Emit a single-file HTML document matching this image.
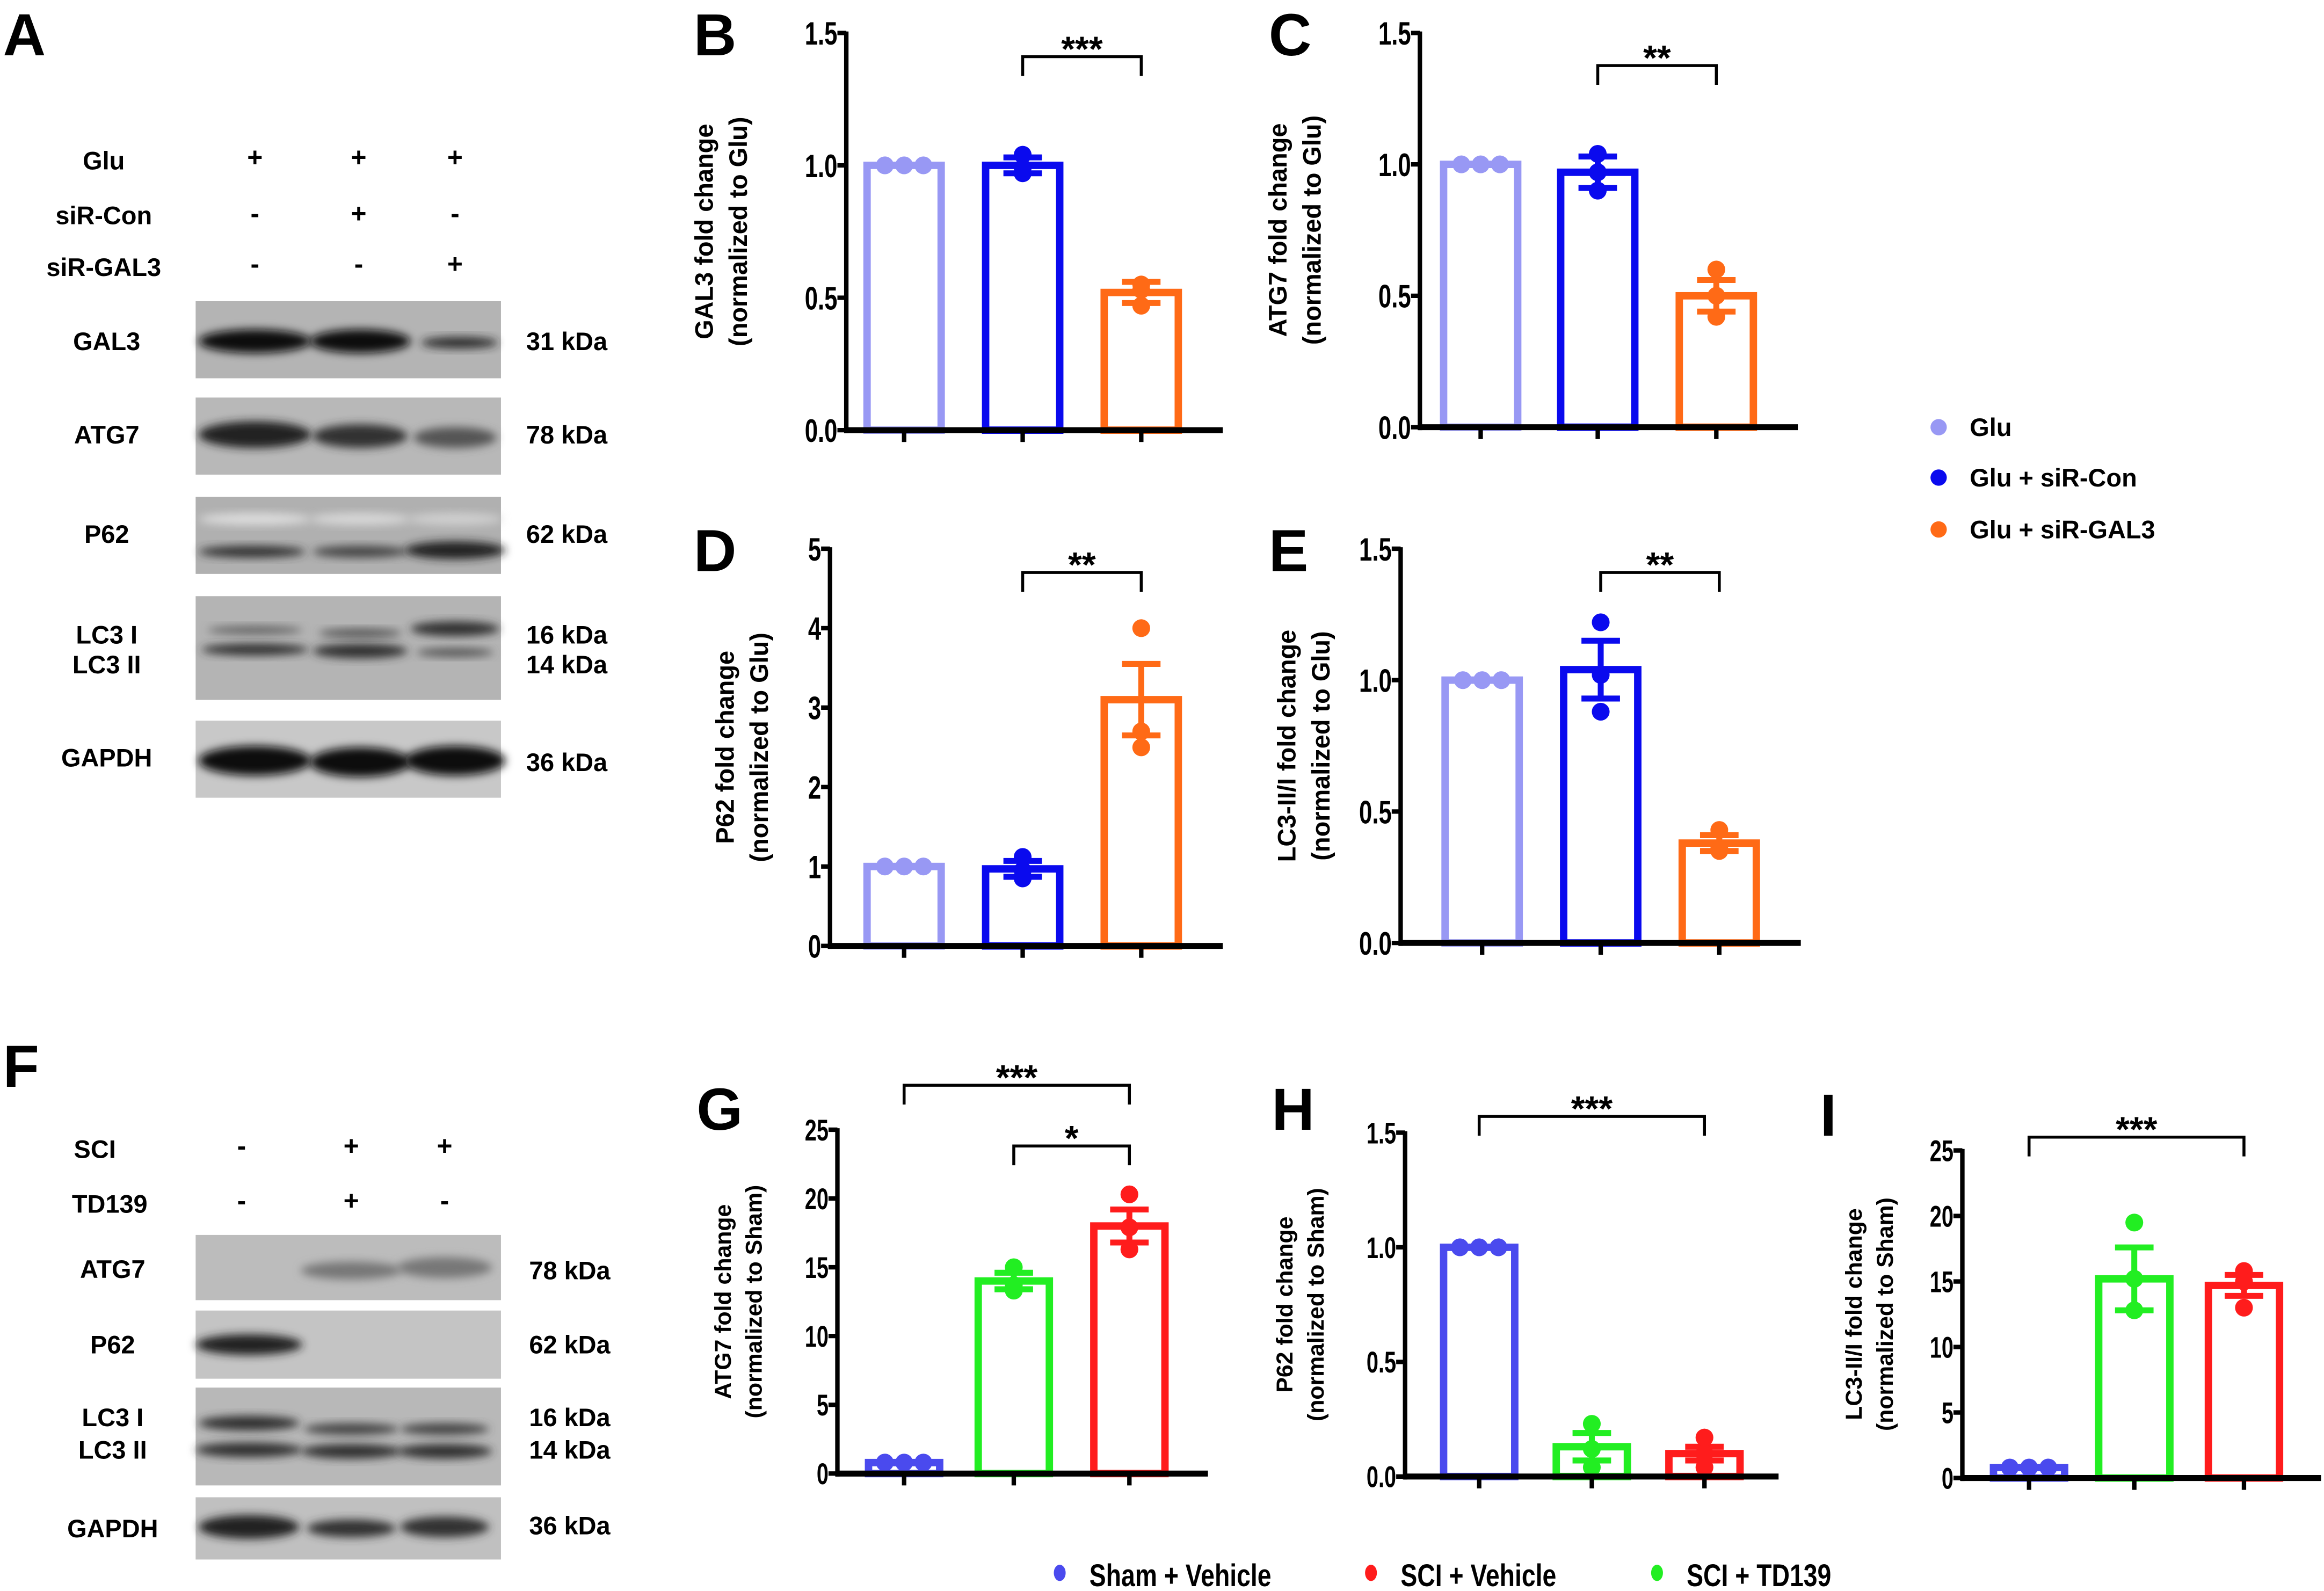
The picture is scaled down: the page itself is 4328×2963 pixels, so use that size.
<!DOCTYPE html>
<html><head><meta charset="utf-8"><style>
html,body{margin:0;padding:0;background:#fff;}
svg{display:block;}
text{font-family:"Liberation Sans",Arial,sans-serif;font-weight:bold;}
</style></head><body>
<svg id="fig" width="4328" height="2963" viewBox="0 0 1568 1073" xmlns="http://www.w3.org/2000/svg">
<defs>
<filter id="blur" x="-20%" y="-50%" width="140%" height="200%"><feGaussianBlur stdDeviation="3"/></filter>
</defs>
<rect width="1568" height="1073" fill="#fff"/>
<g id="blots"></g>
<g id="charts"></g>
<g id="legends"></g>
</svg>
<script>
// ---- chart data ----
const groupsTop = ["Glu", "Glu + siR-Con", "Glu + siR-GAL3"];
const groupsBot = ["Sham + Vehicle", "SCI + TD139", "SCI + Vehicle"];
const colorsTop = ["#9898f4", "#0a0aee", "#ff6a16"];
const colorsBot = ["#4a4aee", "#22ee22", "#ff1c1c"];

const meansB = [1.0, 1.0, 0.52];
const errsB = [0.0, 0.03, 0.04];
const ptsB = [[1,1,1],[1.04,0.97,0.99],[0.55,0.47,0.53]];

const meansC = [1.0, 0.97, 0.5];
const errsC = [0.0, 0.06, 0.06];
const ptsC = [[1,1,1],[1.04,0.97,0.9],[0.6,0.5,0.42]];

const meansD = [1.0, 0.97, 3.1];
const errsD = [0.0, 0.1, 0.45];
const ptsD = [[1,1,1],[1.12,0.85,0.95],[4.0,2.7,2.5]];

const meansE = [1.0, 1.04, 0.38];
const errsE = [0.0, 0.11, 0.03];
const ptsE = [[1,1,1],[1.22,1.02,0.88],[0.43,0.36,0.35]];

const meansG = [0.8, 14.0, 18.0];
const errsG = [0.0, 0.6, 1.2];
const ptsG = [[0.8,0.8,0.8],[15.0,13.3,13.7],[20.3,17.9,16.3]];

const meansH = [1.0, 0.13, 0.10];
const errsH = [0.0, 0.06, 0.03];
const ptsH = [[1,1,1],[0.23,0.12,0.04],[0.17,0.1,0.04]];

const meansI = [0.8, 15.2, 14.7];
const errsI = [0.0, 2.4, 0.8];
const ptsI = [[0.8,0.8,0.8],[19.5,15.2,12.8],[15.8,15.0,13.0]];

const ticks15 = [0, 0.5, 1.0, 1.5];
const tickLabels15 = ["0.0","0.5","1.0","1.5"];
const ticks5 = [0,1,2,3,4,5];
const tickLabels5 = ["0","1","2","3","4","5"];
const ticks25 = [0,5,10,15,20,25];
const tickLabels25 = ["0","5","10","15","20","25"];

const NS = "http://www.w3.org/2000/svg";
function el(tag, attrs, parent, txt){
  const e = document.createElementNS(NS, tag);
  for (const k in attrs) e.setAttribute(k, attrs[k]);
  if (txt !== undefined) e.textContent = txt;
  parent.appendChild(e);
  return e;
}

const chartsG = document.getElementById('charts');

function drawChart(c){
  const g = el('g', {}, chartsG);
  
  
  const yScale = v => c.yBot - (v / c.max) * (c.yBot - c.yTop);
  const fs = c.fs || 22;
  c.means.forEach((m, i) => {
    const x = c.xs[i], col = c.colors[i];
    const top = yScale(m);
    const bar = el('rect', {x: x - c.bw/2, y: top, width: c.bw, height: c.yBot - top, fill: '#fff', stroke: col, 'stroke-width': 5}, g);
    
    
    const e = c.errs[i];
    if (e > 0) {
      const eb = el('g', {stroke: col, 'stroke-width': 4}, g);
      
      
      el('line', {x1: x, x2: x, y1: yScale(m - e), y2: yScale(m + e)}, eb);
      el('line', {x1: x - 13, x2: x + 13, y1: yScale(m + e), y2: yScale(m + e)}, eb);
      el('line', {x1: x - 13, x2: x + 13, y1: yScale(m - e), y2: yScale(m - e)}, eb);
    }
    const pts = c.pts[i];
    const allSame = pts.every(p => p === pts[0]);
    pts.forEach((p, j) => {
      const dx = allSame ? (j - 1) * 13 : 0;
      const pt = el('circle', {cx: x + dx, cy: yScale(p), r: 6, fill: col}, g);
      
      
    });
  });
  const ax = el('g', {stroke: '#000'}, g);
  
  
  el('line', {x1: c.x0, x2: c.x0, y1: c.yTop - 1, y2: c.yBot + 2, 'stroke-width': 3}, ax);
  el('line', {x1: c.x0 - 1, x2: c.xEnd, y1: c.yBot, y2: c.yBot, 'stroke-width': 4}, ax);
  c.ticks.forEach((t, i) => {
    const y = yScale(t);
    el('line', {x1: c.x0 - 6, x2: c.x0, y1: y, y2: y, 'stroke-width': 3}, ax);
    const ax0 = c.x0 - 6;
    const tl = el('text', {x: ax0, y: y + fs*0.36, 'font-size': fs, 'text-anchor': 'end', fill: '#000', stroke: 'none', transform: `translate(${ax0},0) scale(0.72,1) translate(${-ax0},0)`}, g, c.tickLabels[i]);
    
    
  });
  c.xs.forEach(x => el('line', {x1: x, x2: x, y1: c.yBot, y2: c.yBot + 8, 'stroke-width': 3}, ax));
  const ly = (c.yTop + c.yBot) / 2;
  c.ylab.forEach((s, i) => {
    const lx = c.labX + i * c.labGap;
    const t = el('text', {x: 0, y: 0, 'font-size': c.labFs, 'text-anchor': 'middle', fill: '#000',
      transform: `translate(${lx},${ly}) rotate(-90)`}, g, s);
    
    
  });
  c.sig.forEach(s => {
    const sg = el('g', {}, g);
    
    
    const xa = c.xs[s.a], xb = c.xs[s.b];
    el('polyline', {points: `${xa},${s.y+13} ${xa},${s.y} ${xb},${s.y} ${xb},${s.y+13}`, fill: 'none', stroke: '#000', 'stroke-width': 2}, sg);
    el('text', {x: (xa+xb)/2, y: s.y + 3, 'font-size': 24, 'text-anchor': 'middle', fill: '#000'}, sg, s.t);
  });
  const L = el('text', {x: c.letter[0], y: c.letter[1], 'font-size': 40, fill: '#000'}, g, c.id);
  
  
}

const topCommon = {bw: 50, colors: colorsTop, labFs: 17, labGap: 23};
drawChart(Object.assign({}, topCommon, {id:'B', x0:571, xEnd:825, yTop:22, yBot:290, max:1.5, ticks:ticks15, tickLabels:tickLabels15, xs:[610,690,770], means:meansB, errs:errsB, pts:ptsB, ylab:["GAL3 fold change","(normalized to Glu)"], labX:481, sig:[{a:1,b:2,y:38,t:"***"}], letter:[468,37]}));
drawChart(Object.assign({}, topCommon, {id:'C', x0:958, xEnd:1213, yTop:22, yBot:288, max:1.5, ticks:ticks15, tickLabels:tickLabels15, xs:[999,1078,1158], means:meansC, errs:errsC, pts:ptsC, ylab:["ATG7 fold change","(normalized to Glu)"], labX:868, sig:[{a:1,b:2,y:44,t:"**"}], letter:[856,37]}));
drawChart(Object.assign({}, topCommon, {id:'D', x0:560, xEnd:825, yTop:370, yBot:638, max:5, ticks:ticks5, tickLabels:tickLabels5, xs:[610,690,770], means:meansD, errs:errsD, pts:ptsD, ylab:["P62 fold change","(normalized to Glu)"], labX:495, sig:[{a:1,b:2,y:386,t:"**"}], letter:[468,385]}));
drawChart(Object.assign({}, topCommon, {id:'E', x0:945, xEnd:1215, yTop:370, yBot:636, max:1.5, ticks:ticks15, tickLabels:tickLabels15, xs:[1000,1080,1160], means:meansE, errs:errsE, pts:ptsE, ylab:["LC3-II/I fold change","(normalized to Glu)"], labX:874, sig:[{a:1,b:2,y:386,t:"**"}], letter:[856,385]}));

const botCommon = {bw: 48, colors: colorsBot, labFs: 15.5, labGap: 21, fs: 20};
drawChart(Object.assign({}, botCommon, {id:'G', x0:565, xEnd:815, yTop:762, yBot:994, max:25, ticks:ticks25, tickLabels:tickLabels25, xs:[610,684,762], means:meansG, errs:errsG, pts:ptsG, ylab:["ATG7 fold change","(normalized to Sham)"], labX:493, sig:[{a:0,b:2,y:732,t:"***"},{a:1,b:2,y:773,t:"*"}], letter:[470,762]}));
drawChart(Object.assign({}, botCommon, {id:'H', x0:948, xEnd:1200, yTop:764, yBot:996, max:1.5, ticks:ticks15, tickLabels:tickLabels15, xs:[998,1074,1150], means:meansH, errs:errsH, pts:ptsH, ylab:["P62 fold change","(normalized to Sham)"], labX:872, sig:[{a:0,b:2,y:753,t:"***"}], letter:[858,762]}));
drawChart(Object.assign({}, botCommon, {id:'I', x0:1324, xEnd:1566, yTop:776, yBot:997, max:25, ticks:ticks25, tickLabels:tickLabels25, xs:[1369,1440,1514], means:meansI, errs:errsI, pts:ptsI, ylab:["LC3-II/I fold change","(normalized to Sham)"], labX:1256, sig:[{a:0,b:2,y:767,t:"***"}], letter:[1228,766]}));

// ---- legends ----
const lg = document.getElementById('legends');
const legTop = [288, 322, 357];
groupsTop.forEach((nm, i) => {
  const e = el('g', {}, lg);
  
  
  el('circle', {cx: 1308, cy: legTop[i], r: 5.5, fill: colorsTop[i]}, e);
  el('text', {x: 1329, y: legTop[i] + 6, 'font-size': 17, fill: '#000'}, e, nm);
});
const legBotX = [715, 925, 1118];
const legBotOrder = [0, 2, 1];
legBotOrder.forEach((gi, i) => {
  const e = el('g', {}, lg);
  
  
  el('ellipse', {cx: legBotX[i], cy: 1061, rx: 4, ry: 5.5, fill: colorsBot[gi]}, e);
  el('text', {x: legBotX[i] + 20, y: 1070, 'font-size': 21, fill: '#000', transform: `translate(${legBotX[i]+20},0) scale(0.8,1) translate(${-(legBotX[i]+20)},0)`}, e, groupsBot[gi]);
});

// ---- blots ----
const bg = document.getElementById('blots');
function txt(x, y, s, size, anchor, name){
  const t = el('text', {x, y, 'font-size': size, 'text-anchor': anchor || 'middle', fill: '#000'}, bg, s);
  
  
  return t;
}
txt(2, 37, 'A', 40, 'start', 'panel-label-a');
txt(2, 733, 'F', 40, 'start', 'panel-label-f');
txt(70, 114, 'Glu', 17, 'middle', 'condition-label');
txt(70, 151, 'siR-Con', 17, 'middle', 'condition-label');
txt(70, 186, 'siR-GAL3', 17, 'middle', 'condition-label');
const signsA = [['+','+','+'],['-','+','-'],['-','-','+']];
const sxA = [172, 242, 307], syA = [112, 150, 184];
signsA.forEach((row, r) => row.forEach((s, i) => txt(sxA[i], syA[r], s, 18, 'middle', 'sign')));
function blot(x, y, w, h, bg1, bands, name){
  const g = el('g', {}, bg);
  
  
  el('rect', {x, y, width: w, height: h, fill: bg1}, g);
  bands.forEach(b => el('ellipse', {cx: b[0], cy: b[1], rx: b[2], ry: b[3], fill: b[4] || '#111', opacity: b[5] || 1, filter: 'url(#blur)'}, g));
}
blot(132, 203, 206, 52, '#b4b4b4', [[172,230,38,8],[243,230,34,8],[310,231,26,4,'#222',0.9]], 'blot-gal3');
blot(132, 268, 206, 52, '#b8b8b8', [[172,293,38,9,'#222'],[243,294,32,8,'#333'],[307,295,28,7,'#555']], 'blot-atg7');
blot(132, 335, 206, 52, '#b0b0b0', [[172,350,38,4,'#ddd'],[243,350,34,4,'#d8d8d8'],[307,350,32,4,'#d0d0d0'],[170,372,36,4,'#333'],[243,372,32,4,'#444'],[307,371,34,6,'#222']], 'blot-p62');
blot(132, 402, 206, 70, '#b4b4b4', [[172,425,32,3,'#666'],[243,427,28,3,'#555'],[307,424,30,5,'#333'],[172,438,36,4,'#333'],[243,439,32,5,'#333'],[307,440,26,3,'#555']], 'blot-lc3');
blot(132, 486, 206, 52, '#c8c8c8', [[172,513,38,10],[243,514,34,10],[307,513,34,10]], 'blot-gapdh');
const labA = [['GAL3',236],['ATG7',299],['P62',366],['LC3 I',434],['LC3 II',454],['GAPDH',517]];
labA.forEach(l => txt(72, l[1], l[0], 17, 'middle', 'protein-label'));
const kA = [['31 kDa',236],['78 kDa',299],['62 kDa',366],['16 kDa',434],['14 kDa',454],['36 kDa',520]];
kA.forEach(l => txt(355, l[1], l[0], 17, 'start', 'mw-label'));
txt(64, 781, 'SCI', 17, 'middle', 'condition-label');
txt(74, 818, 'TD139', 17, 'middle', 'condition-label');
const signsF = [['-','+','+'],['-','+','-']];
const sxF = [163, 237, 300], syF = [779, 816];
signsF.forEach((row, r) => row.forEach((s, i) => txt(sxF[i], syF[r], s, 18, 'middle', 'sign')));
blot(132, 833, 206, 44, '#bcbcbc', [[237,857,34,6,'#777'],[300,855,32,7,'#777']], 'blot-atg7-f');
blot(132, 884, 206, 46, '#c4c4c4', [[168,907,36,7,'#222']], 'blot-p62-f');
blot(132, 936, 206, 66, '#b8b8b8', [[168,960,34,5,'#333'],[237,964,32,4,'#444'],[300,964,30,4,'#444'],[168,978,36,5,'#333'],[237,979,34,5,'#333'],[300,979,32,5,'#333']], 'blot-lc3-f');
blot(132, 1010, 206, 42, '#c0c0c0', [[168,1030,34,8,'#222'],[237,1031,30,6,'#333'],[300,1030,30,7,'#333']], 'blot-gapdh-f');
const labF = [['ATG7',862],['P62',913],['LC3 I',962],['LC3 II',984],['GAPDH',1037]];
labF.forEach(l => txt(76, l[1], l[0], 17, 'middle', 'protein-label'));
const kF = [['78 kDa',863],['62 kDa',913],['16 kDa',962],['14 kDa',984],['36 kDa',1035]];
kF.forEach(l => txt(357, l[1], l[0], 17, 'start', 'mw-label'));
</script>
</body></html>
